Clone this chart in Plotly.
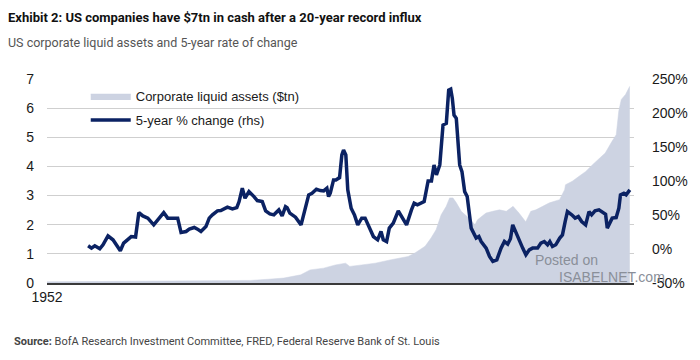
import plotly.graph_objects as go

# Corporate liquid assets ($tn), left axis
asset_years = [1952.0, 1960.6, 1968.2, 1973.5, 1976.1, 1978.2, 1980.0, 1982.0, 1982.4, 1983.1,
               1984.7, 1986.1, 1987.3, 1987.8, 1989.2, 1990.8, 1992.7, 1994.7, 1995.5, 1996.7,
               1997.4, 1998.0, 1998.6, 1999.2, 1999.6, 2000.0, 2000.4, 2001.0, 2001.8, 2002.6,
               2002.9, 2003.9, 2004.7, 2005.5, 2006.3, 2007.1, 2007.8, 2008.6, 2009.2, 2009.8,
               2010.6, 2011.4, 2012.6, 2013.2, 2013.3, 2014.1, 2014.9, 2015.7, 2016.5, 2017.3,
               2018.0, 2018.8, 2019.3, 2019.6, 2019.9, 2020.4, 2020.7, 2020.9]
asset_values = [0.04, 0.05, 0.06, 0.08, 0.09, 0.13, 0.17, 0.28, 0.34, 0.45,
                0.51, 0.62, 0.68, 0.57, 0.62, 0.68, 0.80, 0.91, 1.03, 1.26,
                1.54, 1.83, 2.34, 2.63, 2.92, 2.92, 2.75, 2.45, 2.25, 2.00,
                2.17, 2.40, 2.46, 2.51, 2.46, 2.63, 2.40, 2.10, 2.46, 2.51,
                2.63, 2.75, 2.86, 3.20, 3.37, 3.49, 3.66, 3.83, 4.06, 4.29,
                4.46, 4.86, 5.09, 5.90, 6.30, 6.47, 6.65, 6.75]

# 5-year % change, right axis
chg_years = [1956.86, 1957.26, 1957.65, 1958.24, 1958.62, 1959.21, 1959.80, 1960.20, 1960.67, 1961.06,
             1961.45, 1961.96, 1962.47, 1962.86, 1963.33, 1963.92, 1964.62, 1965.21, 1965.80, 1966.27,
             1966.86, 1967.45, 1967.85, 1968.44, 1968.82, 1969.41, 1969.80, 1970.20, 1970.79, 1971.18,
             1971.56, 1972.15, 1972.55, 1972.94, 1973.33, 1973.92, 1974.44, 1974.71, 1975.09, 1975.41,
             1975.88, 1976.47, 1976.86, 1977.45, 1977.85, 1978.35, 1978.82, 1979.41, 1979.80, 1980.20,
             1980.39, 1980.71, 1981.38, 1982.04, 1982.55, 1982.94, 1983.33, 1983.85, 1984.32, 1984.71,
             1985.09, 1985.29, 1985.49, 1985.88, 1986.15, 1986.59, 1986.86, 1987.06, 1987.33, 1987.56,
             1987.96, 1988.35, 1988.74, 1989.21, 1989.61, 1990.08, 1990.59, 1991.09, 1991.49, 1991.76,
             1992.15, 1992.47, 1992.94, 1993.53, 1994.00, 1994.51, 1995.09, 1995.41, 1995.80, 1996.20,
             1996.59, 1997.06, 1997.45, 1997.76, 1998.04, 1998.44, 1998.82, 1999.21, 1999.49, 1999.73,
             1999.92, 2000.12, 2000.39, 2000.79, 2001.06, 2001.38, 2001.68, 2002.15, 2002.44, 2002.74,
             2003.06, 2003.33, 2003.92, 2004.32, 2004.71, 2005.18, 2005.68, 2006.08, 2006.47, 2006.79,
             2007.06, 2007.45, 2007.85, 2008.24, 2008.62, 2009.02, 2009.41, 2010.00, 2010.39, 2010.79,
             2011.18, 2011.45, 2011.76, 2012.15, 2012.62, 2012.94, 2013.26, 2013.53, 2014.04, 2014.44,
             2014.82, 2015.21, 2015.68, 2016.08, 2016.39, 2016.79, 2017.26, 2017.73, 2018.04, 2018.24,
             2018.51, 2018.82, 2019.29, 2019.61, 2019.80, 2020.20, 2020.47, 2020.91]
chg_values = [4.7, 1.3, 4.7, 0.3, 6.2, 19.4, 13.5, 6.2, -2.6, 8.7,
              12.5, 18.3, 17.5, 53.6, 48.7, 45.4, 35.5, 45.4, 53.6, 45.4,
              45.4, 45.4, 24.2, 25.7, 29.2, 31.6, 29.2, 25.7, 33.0, 45.4,
              50.2, 56.1, 56.5, 59.0, 61.5, 59.0, 60.9, 69.7, 89.4, 74.7,
              84.4, 77.1, 71.2, 69.7, 56.1, 51.7, 50.2, 57.5, 48.7, 62.4,
              60.9, 52.7, 46.8, 35.5, 62.4, 79.6, 82.0, 87.9, 85.9, 85.4,
              89.4, 77.1, 82.0, 101.6, 101.6, 105.0, 138.3, 145.6, 138.3, 86.9,
              60.0, 50.2, 35.5, 45.4, 45.4, 33.0, 18.3, 13.5, 25.7, 13.5,
              11.0, 30.7, 38.0, 56.1, 45.4, 35.5, 57.5, 67.4, 64.9, 67.4,
              69.7, 100.1, 100.1, 123.6, 108.9, 123.6, 182.3, 184.8, 233.7, 235.1,
              221.5, 197.0, 192.1, 123.6, 113.8, 84.4, 77.1, 30.7, 23.3, 16.0,
              18.3, 11.0, 1.3, -11.0, -18.3, -15.9, 1.3, 11.0, 7.2, 15.0,
              35.5, 23.3, 13.5, 1.3, -8.5, -1.2, 1.3, 1.3, 8.7, 11.0,
              6.2, 11.0, 3.7, 6.2, 16.0, 20.8, 40.4, 55.0, 50.2, 45.4,
              47.7, 40.4, 35.5, 55.0, 50.2, 56.1, 57.5, 52.7, 51.2, 30.7,
              38.0, 45.4, 46.2, 60.0, 79.6, 82.0, 79.6, 86.9]

left_ticks = [0, 1, 2, 3, 4, 5, 6, 7]
right_ticks = [-50, 0, 50, 100, 150, 200, 250]
right_tick_text = ["-50%", "0%", "50%", "100%", "150%", "200%", "250%"]
x_ticks = [1952]
x_tick_text = ["1952"]

AREA = "#cdd3e2"
NAVY = "#0b2263"
ARIAL = "Liberation Sans, Arial, sans-serif"
TICKFONT = dict(family=ARIAL, size=14, color="#1a1a1a")
HEAD = "Roboto, Lato, sans-serif"

fig = go.Figure()
fig.add_trace(go.Scatter(
    x=asset_years, y=asset_values, name="Corporate liquid assets ($tn)",
    mode="lines", fill="tozeroy", fillcolor=AREA, line=dict(color=AREA, width=0.5),
    legendgroup="a", hoverinfo="skip"))
fig.add_trace(go.Scatter(
    x=chg_years, y=chg_values, name="5-year % change (rhs)", yaxis="y2",
    mode="lines", line=dict(color=NAVY, width=3.5), legendgroup="b", hoverinfo="skip"))

# the page body adds an 8px offset, so the figure is 8px smaller and shifted
fig.update_layout(
    width=692, height=352,
    margin=dict(l=39, r=63, t=71, b=77),
    paper_bgcolor="white", plot_bgcolor="white",
    showlegend=True,
    legend=dict(x=0.066, y=0.99, xanchor="left", yanchor="top", bgcolor="rgba(0,0,0,0)",
                font=dict(family=ARIAL, size=13, color="#1a1a1a"),
                tracegroupgap=4, itemwidth=40, traceorder="grouped"),
    xaxis=dict(range=[1952, 2021.4], tickvals=x_ticks, ticktext=x_tick_text,
               showgrid=False, zeroline=False, showline=True, linecolor="#3a3a3a", linewidth=2,
               ticks="", tickfont=TICKFONT, fixedrange=True),
    yaxis=dict(range=[0, 7], tickvals=left_ticks, showgrid=True, gridcolor="#cfcfcf", gridwidth=1,
               zeroline=False, showline=False, ticks="", tickfont=TICKFONT, ticklabelstandoff=12),
    yaxis2=dict(range=[-50, 250], tickvals=right_ticks, ticktext=right_tick_text, overlaying="y",
                side="right", showgrid=False, zeroline=False, showline=False, ticks="",
                tickfont=TICKFONT, ticklabelstandoff=17),
)

def px(x):
    return (x - 47) / 590

def py(y):
    return (283.3 - y) / 204.3

fig.add_annotation(xref="paper", yref="paper", x=px(6), y=py(17), xanchor="left", yanchor="middle",
                   showarrow=False,
                   text="<b>Exhibit 2: US companies have $7tn in cash after a 20-year record influx</b>",
                   font=dict(family=HEAD, size=13, color="#111111"))
fig.add_annotation(xref="paper", yref="paper", x=px(6), y=py(42), xanchor="left", yanchor="middle",
                   showarrow=False, text="US corporate liquid assets and 5-year rate of change",
                   font=dict(family=HEAD, size=12.5, color="#555555"))
fig.add_annotation(xref="paper", yref="paper", x=px(12), y=py(342), xanchor="left", yanchor="middle",
                   showarrow=False,
                   text="<b>Source:</b> BofA Research Investment Committee, FRED, Federal Reserve Bank of St. Louis",
                   font=dict(family=HEAD, size=11, color="#444444"))
fig.add_annotation(xref="paper", yref="paper", x=px(535), y=py(260), xanchor="left", yanchor="middle",
                   showarrow=False, text="Posted on",
                   font=dict(family=ARIAL, size=14, color="#8a8f99"))
fig.add_annotation(xref="paper", yref="paper", x=px(560), y=py(277), xanchor="left", yanchor="middle",
                   showarrow=False, text="ISABELNET.com",
                   font=dict(family=ARIAL, size=14, color="#8a8f99"))

fig.write_html("out.html")
